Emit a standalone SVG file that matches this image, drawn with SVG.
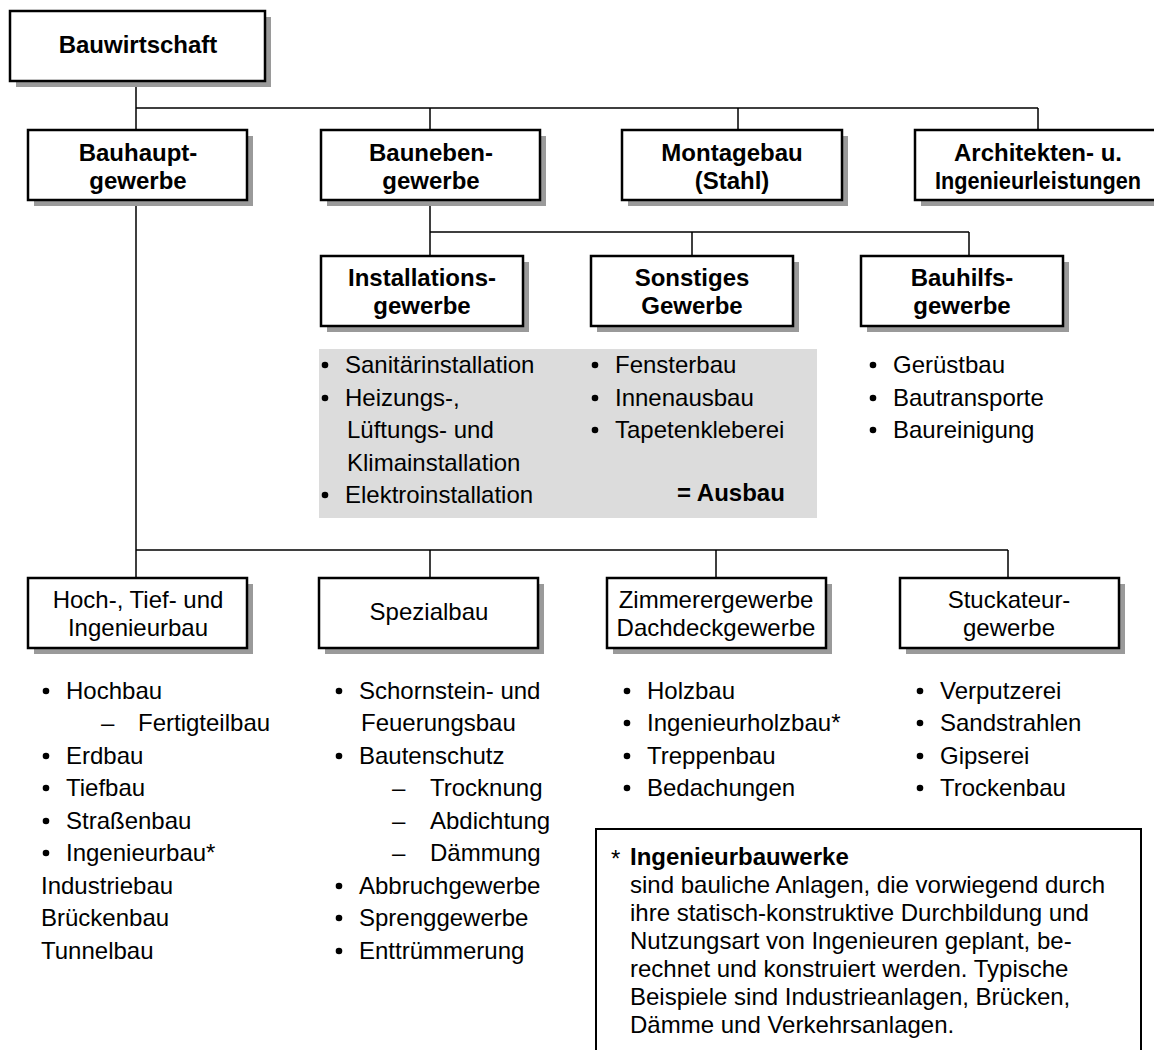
<svg xmlns="http://www.w3.org/2000/svg" width="1154" height="1050" viewBox="0 0 1154 1050">
<style>
.shadow{fill:#9a9a9a;}
.box{fill:#fff;stroke:#000;stroke-width:2.5;}
.conn{stroke:#000;stroke-width:1.5;fill:none;}
.dot{fill:#000;}
.b{font-family:"Liberation Sans",Arial,sans-serif;font-weight:bold;font-size:24px;fill:#000;text-anchor:middle;}
.r{font-family:"Liberation Sans",Arial,sans-serif;font-size:24px;fill:#000;text-anchor:middle;}
.t{font-family:"Liberation Sans",Arial,sans-serif;font-size:24px;fill:#000;}
.tb{font-family:"Liberation Sans",Arial,sans-serif;font-size:24px;font-weight:bold;fill:#000;}
.f{font-family:"Liberation Sans",Arial,sans-serif;font-size:24px;fill:#000;}
</style>
<rect x="0" y="0" width="1154" height="1050" fill="#fff"/>
<g id="connectors">
<path class="conn" d="M136 81V130M136 108H1038M430 108V130M738 108V130M1038 108V130"/>
<path class="conn" d="M430 200V256M430 232H969M692 232V256M969 232V256"/>
<path class="conn" d="M136 200V578M136 550H1008M430 550V578M716 550V578M1008 550V578"/>
</g>
<g id="ausbau-bg"><rect x="319" y="349" width="498" height="169" fill="#dcdcdc"/></g>
<g id="n-bauwirtschaft">
<rect class="shadow" x="16" y="17" width="255" height="70"/>
<rect class="box" x="10" y="11" width="255" height="70"/>
<text class="b" x="138" y="53">Bauwirtschaft</text>
</g>
<g id="n-bauhaupt">
<rect class="shadow" x="34" y="136" width="219" height="70"/>
<rect class="box" x="28" y="130" width="219" height="70"/>
<text class="b" x="138" y="161">Bauhaupt-</text>
<text class="b" x="138" y="189">gewerbe</text>
</g>
<g id="n-bauneben">
<rect class="shadow" x="327" y="136" width="219" height="70"/>
<rect class="box" x="321" y="130" width="219" height="70"/>
<text class="b" x="431" y="161">Bauneben-</text>
<text class="b" x="431" y="189">gewerbe</text>
</g>
<g id="n-montagebau">
<rect class="shadow" x="628" y="136" width="220" height="70"/>
<rect class="box" x="622" y="130" width="220" height="70"/>
<text class="b" x="732" y="161">Montagebau</text>
<text class="b" x="732" y="189">(Stahl)</text>
</g>
<g id="n-architekten">
<rect class="shadow" x="921" y="136" width="240" height="70"/>
<rect class="box" x="915" y="130" width="245" height="70"/>
<text class="b" x="1038" y="161">Architekten- u.</text>
<text class="b" x="1038" y="189" textLength="206" lengthAdjust="spacingAndGlyphs">Ingenieurleistungen</text>
</g>
<g id="n-installation">
<rect class="shadow" x="327" y="262" width="202" height="70"/>
<rect class="box" x="321" y="256" width="202" height="70"/>
<text class="b" x="422" y="286">Installations-</text>
<text class="b" x="422" y="314">gewerbe</text>
</g>
<g id="n-sonstiges">
<rect class="shadow" x="597" y="262" width="202" height="70"/>
<rect class="box" x="591" y="256" width="202" height="70"/>
<text class="b" x="692" y="286">Sonstiges</text>
<text class="b" x="692" y="314">Gewerbe</text>
</g>
<g id="n-bauhilfs">
<rect class="shadow" x="867" y="262" width="202" height="70"/>
<rect class="box" x="861" y="256" width="202" height="70"/>
<text class="b" x="962" y="286">Bauhilfs-</text>
<text class="b" x="962" y="314">gewerbe</text>
</g>
<g id="list-installation">
<circle class="dot" cx="325" cy="365" r="3.3"/><text class="t" x="345" y="373">Sanitärinstallation</text>
<circle class="dot" cx="325" cy="398" r="3.3"/><text class="t" x="345" y="406">Heizungs-,</text>
<text class="t" x="347" y="438">Lüftungs- und</text>
<text class="t" x="347" y="471">Klimainstallation</text>
<circle class="dot" cx="325" cy="495" r="3.3"/><text class="t" x="345" y="503">Elektroinstallation</text>
</g>
<g id="list-sonstiges">
<circle class="dot" cx="595" cy="365" r="3.3"/><text class="t" x="615" y="373">Fensterbau</text>
<circle class="dot" cx="595" cy="398" r="3.3"/><text class="t" x="615" y="406">Innenausbau</text>
<circle class="dot" cx="595" cy="430" r="3.3"/><text class="t" x="615" y="438">Tapetenkleberei</text>
<text class="tb" x="677" y="501">= Ausbau</text>
</g>
<g id="list-bauhilfs">
<circle class="dot" cx="873" cy="365" r="3.3"/><text class="t" x="893" y="373">Gerüstbau</text>
<circle class="dot" cx="873" cy="398" r="3.3"/><text class="t" x="893" y="406">Bautransporte</text>
<circle class="dot" cx="873" cy="430" r="3.3"/><text class="t" x="893" y="438">Baureinigung</text>
</g>
<g id="n-hochtief">
<rect class="shadow" x="34" y="584" width="219" height="70"/>
<rect class="box" x="28" y="578" width="219" height="70"/>
<text class="r" x="138" y="608">Hoch-, Tief- und</text>
<text class="r" x="138" y="636">Ingenieurbau</text>
</g>
<g id="n-spezialbau">
<rect class="shadow" x="325" y="584" width="219" height="70"/>
<rect class="box" x="319" y="578" width="219" height="70"/>
<text class="r" x="429" y="620">Spezialbau</text>
</g>
<g id="n-zimmerer">
<rect class="shadow" x="613" y="584" width="219" height="70"/>
<rect class="box" x="607" y="578" width="219" height="70"/>
<text class="r" x="716" y="608">Zimmerergewerbe</text>
<text class="r" x="716" y="636">Dachdeckgewerbe</text>
</g>
<g id="n-stuckateur">
<rect class="shadow" x="906" y="584" width="219" height="70"/>
<rect class="box" x="900" y="578" width="219" height="70"/>
<text class="r" x="1009" y="608">Stuckateur-</text>
<text class="r" x="1009" y="636">gewerbe</text>
</g>
<g id="list-hochtief">
<circle class="dot" cx="46" cy="691" r="3.3"/><text class="t" x="66" y="699">Hochbau</text>
<text class="t" x="101" y="731">–</text><text class="t" x="138" y="731">Fertigteilbau</text>
<circle class="dot" cx="46" cy="756" r="3.3"/><text class="t" x="66" y="764">Erdbau</text>
<circle class="dot" cx="46" cy="788" r="3.3"/><text class="t" x="66" y="796">Tiefbau</text>
<circle class="dot" cx="46" cy="821" r="3.3"/><text class="t" x="66" y="829">Straßenbau</text>
<circle class="dot" cx="46" cy="853" r="3.3"/><text class="t" x="66" y="861">Ingenieurbau*</text>
<text class="t" x="41" y="894">Industriebau</text>
<text class="t" x="41" y="926">Brückenbau</text>
<text class="t" x="41" y="959">Tunnelbau</text>
</g>
<g id="list-spezialbau">
<circle class="dot" cx="339" cy="691" r="3.3"/><text class="t" x="359" y="699">Schornstein- und</text>
<text class="t" x="361" y="731">Feuerungsbau</text>
<circle class="dot" cx="339" cy="756" r="3.3"/><text class="t" x="359" y="764">Bautenschutz</text>
<text class="t" x="392" y="796">–</text><text class="t" x="430" y="796">Trocknung</text>
<text class="t" x="392" y="829">–</text><text class="t" x="430" y="829">Abdichtung</text>
<text class="t" x="392" y="861">–</text><text class="t" x="430" y="861">Dämmung</text>
<circle class="dot" cx="339" cy="886" r="3.3"/><text class="t" x="359" y="894">Abbruchgewerbe</text>
<circle class="dot" cx="339" cy="918" r="3.3"/><text class="t" x="359" y="926">Sprenggewerbe</text>
<circle class="dot" cx="339" cy="951" r="3.3"/><text class="t" x="359" y="959">Enttrümmerung</text>
</g>
<g id="list-zimmerer">
<circle class="dot" cx="627" cy="691" r="3.3"/><text class="t" x="647" y="699">Holzbau</text>
<circle class="dot" cx="627" cy="723" r="3.3"/><text class="t" x="647" y="731">Ingenieurholzbau*</text>
<circle class="dot" cx="627" cy="756" r="3.3"/><text class="t" x="647" y="764">Treppenbau</text>
<circle class="dot" cx="627" cy="788" r="3.3"/><text class="t" x="647" y="796">Bedachungen</text>
</g>
<g id="list-stuckateur">
<circle class="dot" cx="920" cy="691" r="3.3"/><text class="t" x="940" y="699">Verputzerei</text>
<circle class="dot" cx="920" cy="723" r="3.3"/><text class="t" x="940" y="731">Sandstrahlen</text>
<circle class="dot" cx="920" cy="756" r="3.3"/><text class="t" x="940" y="764">Gipserei</text>
<circle class="dot" cx="920" cy="788" r="3.3"/><text class="t" x="940" y="796">Trockenbau</text>
</g>
<g id="footnote">
<rect x="596" y="829" width="545" height="240" fill="#fff" stroke="#000" stroke-width="2"/>
<text class="f" x="611" y="867">*</text>
<text class="tb" x="630" y="865">Ingenieurbauwerke</text>
<text class="f" x="630" y="893">sind bauliche Anlagen, die vorwiegend durch</text>
<text class="f" x="630" y="921">ihre statisch-konstruktive Durchbildung und</text>
<text class="f" x="630" y="949">Nutzungsart von Ingenieuren geplant, be-</text>
<text class="f" x="630" y="977">rechnet und konstruiert werden. Typische</text>
<text class="f" x="630" y="1005">Beispiele sind Industrieanlagen, Brücken,</text>
<text class="f" x="630" y="1033">Dämme und Verkehrsanlagen.</text>
</g>
</svg>
